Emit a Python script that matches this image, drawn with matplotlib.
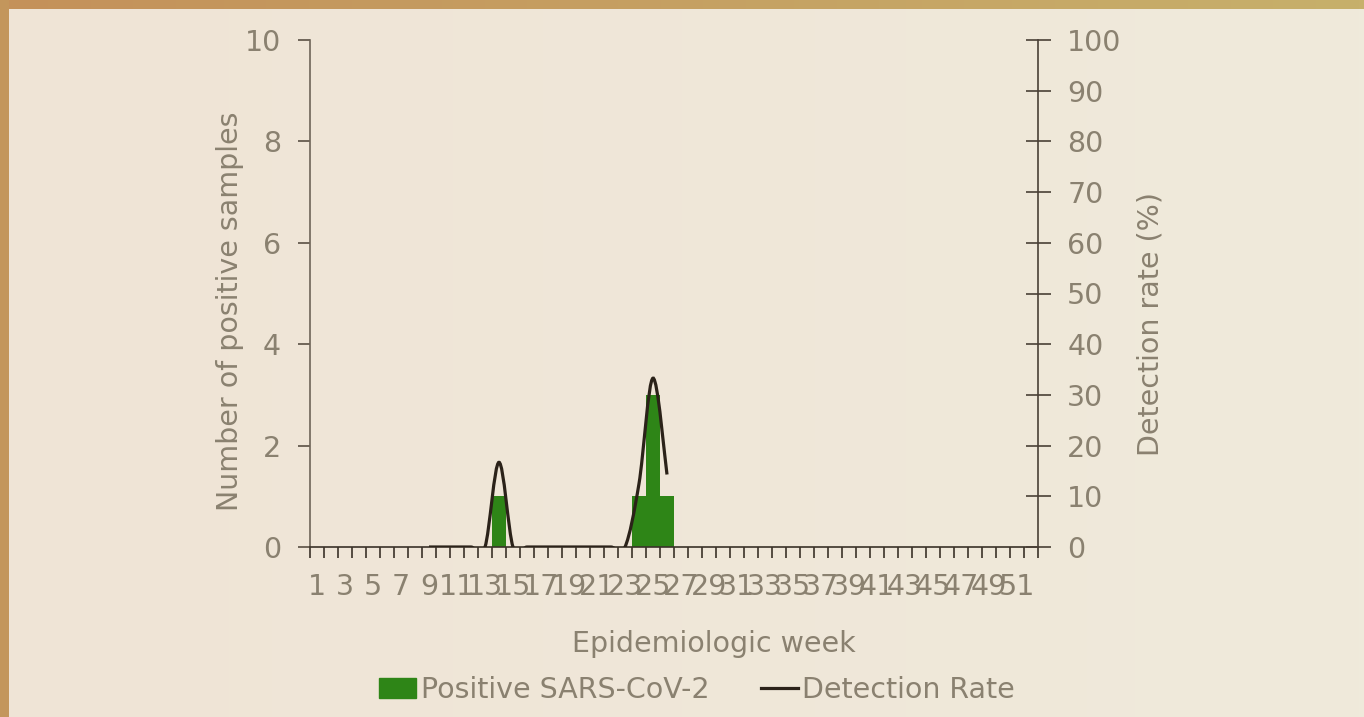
#!/usr/bin/env python3

import matplotlib
matplotlib.use('Agg')
import matplotlib.pyplot as plt
import matplotlib.patches as mpatches
import matplotlib.lines as mlines
from matplotlib.path import Path
import numpy as np

# Data
weeks = list(range(1, 53))
positive = [0] * 52
positive[14 - 1] = 1
positive[24 - 1] = 1
positive[25 - 1] = 3
positive[26 - 1] = 1

rate_weeks = list(range(9, 27))
rate_values = [0, 0, 0, 0, 0, 16.7, 0, 0, 0, 0, 0, 0, 0, 0, 0, 12.5, 33.3, 14.3]

week_labels = [str(w) for w in range(1, 52, 2)]

TEXT = '#8a8170'
BAR = '#2e8517'
LINE = '#2b2219'
FS = 20.5


def smooth_path(xs, ys):
    '''Excel-like smoothed line: cubic Bezier through every point
    '''
    pts = list(zip(xs, ys))
    verts = [pts[0]]
    codes = [Path.MOVETO]
    n = len(pts)
    for i in range(n - 1):
        p0 = pts[i - 1] if i > 0 else pts[i]
        p1 = pts[i]
        p2 = pts[i + 1]
        p3 = pts[i + 2] if i + 2 < n else pts[i + 1]
        c1 = (p1[0] + (p2[0] - p0[0]) / 6, p1[1] + (p2[1] - p0[1]) / 6)
        c2 = (p2[0] - (p3[0] - p1[0]) / 6, p2[1] - (p3[1] - p1[1]) / 6)
        verts += [c1, c2, p2]
        codes += [Path.CURVE4] * 3
    return Path(verts, codes)


def main():
    matplotlib.rcParams.update({'font.size': FS, 'font.family': 'DejaVu Sans'})

    fig = plt.figure(figsize=(13.64, 7.17), dpi=100)

    # Background with soft horizontal gradient and a frame on top / left
    bg = fig.add_axes([0, 0, 1, 1], zorder=-10)
    grad = np.linspace(0, 1, 256).reshape(1, -1)
    cmap = matplotlib.colors.LinearSegmentedColormap.from_list('bg', ['#efe4d6', '#efeadb'])
    bg.imshow(grad, aspect='auto', cmap=cmap, extent=[0, 1, 0, 1])
    top = matplotlib.colors.LinearSegmentedColormap.from_list('top', ['#c4915a', '#c7b06b'])
    bg.imshow(grad, aspect='auto', cmap=top, extent=[0, 1, 1 - 9 / 717, 1])
    bg.add_patch(mpatches.Rectangle((0, 0), 9 / 1364, 1, color='#c3965c', lw=0))
    bg.set_xlim(0, 1)
    bg.set_ylim(0, 1)
    bg.axis('off')

    ax = fig.add_axes([310 / 1364, 170 / 717, 728 / 1364, 507 / 717])
    ax.patch.set_alpha(0)

    ax.bar(weeks, positive, width=1.0, color=BAR, zorder=2)
    ax.set_xlim(0.5, 52.5)
    ax.set_ylim(0, 10)
    ax.set_yticks(range(0, 11, 2))

    ax.set_xticks(range(1, 52, 2))
    ax.set_xticklabels(week_labels)
    ax.set_xticks(np.arange(0.5, 53, 1), minor=True)
    ax.tick_params(axis='x', which='major', length=0, pad=19, labelcolor=TEXT, labelsize=FS)
    ax.tick_params(axis='x', which='minor', length=8, width=1.2, color='#3a3228', direction='out')
    ax.tick_params(axis='y', length=9, width=1.2, color='#5a5044', labelcolor=TEXT, labelsize=FS, pad=12)

    for s in ['top', 'right']:
        ax.spines[s].set_visible(False)
    ax.spines['left'].set_color('#6e6458')
    ax.spines['bottom'].set_color('#3a3228')
    ax.spines['left'].set_linewidth(1.2)
    ax.spines['bottom'].set_linewidth(1.2)

    ax.set_ylabel('Number of positive samples', color=TEXT, fontsize=FS)
    ax.yaxis.set_label_coords(-0.091, 0.465)
    ax.set_xlabel('Epidemiologic week', color=TEXT, fontsize=FS)
    ax.xaxis.set_label_coords(0.555, -0.164)

    # Detection rate on the right axis
    ax2 = ax.twinx()
    ax2.set_ylim(0, 100)
    ax2.set_yticks(range(0, 101, 10))
    ax2.add_patch(mpatches.PathPatch(smooth_path(rate_weeks, rate_values),
        facecolor='none',
        edgecolor=LINE,
        lw=2.3,
        zorder=3,
    ))
    ax2.tick_params(axis='y', length=18, width=1.2, color='#4a4036', direction='inout',
                    labelcolor=TEXT, labelsize=FS, pad=12)
    for s in ['top', 'left', 'bottom']:
        ax2.spines[s].set_visible(False)
    ax2.spines['right'].set_color('#4a4036')
    ax2.spines['right'].set_linewidth(1.2)
    ax2.set_ylabel('Detection rate (%)', color=TEXT, fontsize=FS)
    ax2.yaxis.set_label_coords(1.135, 0.44)

    # Legend below the chart
    lh = [
        mpatches.Patch(color=BAR, label='Positive SARS-CoV-2'),
        mlines.Line2D([], [], color=LINE, lw=2.3, label='Detection Rate'),
    ]
    fig.legend(handles=lh,
        loc='center',
        bbox_to_anchor=(697 / 1364, 1 - 690 / 717),
        ncol=2,
        frameon=False,
        fontsize=FS,
        labelcolor=TEXT,
        handlelength=1.3,
        handletextpad=0.15,
        columnspacing=1.8,
    )

    fig.savefig('out.png', dpi=100)


if __name__ == '__main__':
    main()
